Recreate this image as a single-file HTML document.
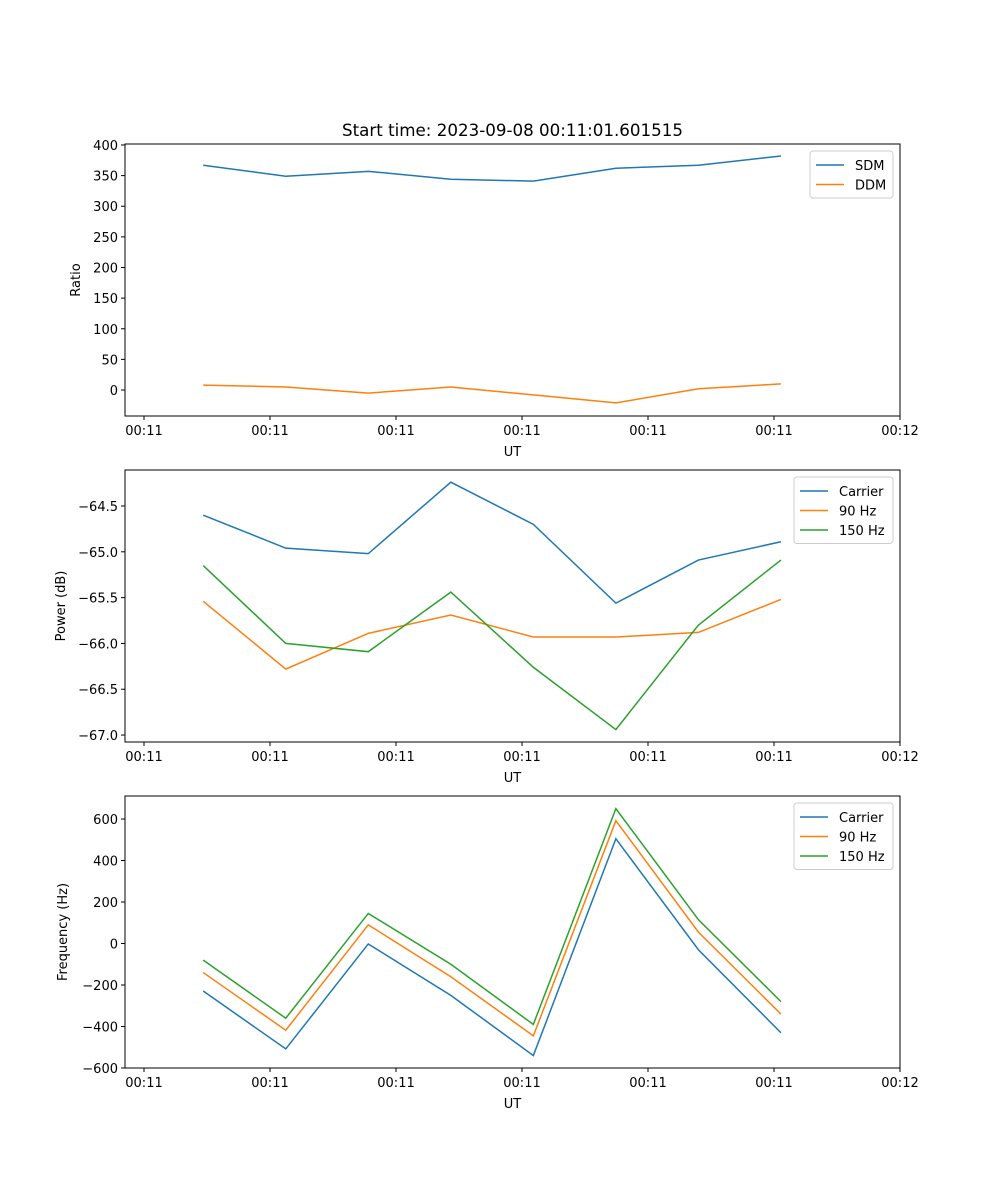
<!DOCTYPE html>
<html><head><meta charset="utf-8"><style>
body{margin:0;background:#fff}
svg{display:block;font-family:"DejaVu Sans","Liberation Sans",sans-serif}
</style></head><body>
<svg id="fig" width="1000" height="1200" viewBox="0 0 1000 1200">
<rect width="1000" height="1200" fill="#fff"/>
<text x="512.5" y="136" font-size="16.7" text-anchor="middle">Start time: 2023-09-08 00:11:01.601515</text>
</svg>
<script>
const times=[4.7,11.25,17.8,24.35,30.9,37.45,44.0,50.55];
const xTickVals=[0,10,20,30,40,50,60];
const xTickLabels=["00:11","00:11","00:11","00:11","00:11","00:11","00:12"];
const sdm=[367,349,357,344,341,362,367,382];
const ddm=[8,5,-5,5,-8,-21,2,10];
const ratioTicks=[400,350,300,250,200,150,100,50,0];
const pCarrier=[-64.60,-64.96,-65.02,-64.24,-64.70,-65.56,-65.09,-64.89];
const p90=[-65.54,-66.28,-65.89,-65.69,-65.93,-65.93,-65.88,-65.52];
const p150=[-65.15,-66.00,-66.09,-65.44,-66.26,-66.94,-65.80,-65.09];
const powerTicks=[-64.5,-65.0,-65.5,-66.0,-66.5,-67.0];
const fCarrier=[-229,-508,-2,-250,-540,505,-30,-430];
const f90=[-140,-418,90,-160,-445,592,55,-340];
const f150=[-80,-360,145,-100,-390,650,115,-280];
const freqTicks=[600,400,200,0,-200,-400,-600];

const NS="http://www.w3.org/2000/svg";
const svg=document.getElementById('fig');
const C=['#1f77b4','#ff7f0e','#2ca02c'];
const L=125,R=900;
const xs=t=>144+(t-0)*12.6;
function mk(tag,attrs,parent){const e=document.createElementNS(NS,tag);for(const k in attrs)e.setAttribute(k,attrs[k]);(parent||svg).appendChild(e);return e;}

function panel(id,top,bot,ymin,ymax,ticks,fmt,ylabel,yx,series,names,legW){
  const g=mk('g',{});
  
  
  const ys=v=>bot-(v-ymin)/(ymax-ymin)*(bot-top);
  ticks.forEach(v=>{const y=ys(v);
    mk('line',{x1:L-4,x2:L,y1:y,y2:y,stroke:'#000','stroke-width':1},g);
    const t=mk('text',{x:L-7,y:y+5,'font-size':13,'text-anchor':'end'},g);t.textContent=fmt(v);
    
    
  });
  xTickVals.forEach((v,i)=>{const x=xs(v);
    mk('line',{x1:x,x2:x,y1:bot,y2:bot+4,stroke:'#000','stroke-width':1},g);
    const t=mk('text',{x:x,y:bot+19,'font-size':13,'text-anchor':'middle'},g);t.textContent=xTickLabels[i];
    
    
  });
  const xl=mk('text',{x:512.5,y:bot+40,'font-size':13,'text-anchor':'middle'},g);xl.textContent='UT';
  
  
  const yl=mk('text',{x:0,y:0,'font-size':13,'text-anchor':'middle',transform:`translate(${yx},${(top+bot)/2}) rotate(-90)`},g);yl.textContent=ylabel;
  
  
  series.forEach((s,i)=>{
    const p=mk('polyline',{points:s.map((v,j)=>xs(times[j])+','+ys(v)).join(' '),fill:'none',stroke:C[i],'stroke-width':1.5},g);
    
    
  });
  mk('rect',{x:L,y:top,width:R-L,height:bot-top,fill:'none',stroke:'#000','stroke-width':1},g);
  const lg=mk('g',{},g);
  
  
  const lx=R-7-legW,ly=top+7;
  mk('rect',{x:lx,y:ly,width:legW,height:names.length*19.5+8,rx:3,fill:'#fff','fill-opacity':0.8,stroke:'#ccc'},lg);
  names.forEach((n,i)=>{const y=ly+14+i*19.5;
    mk('line',{x1:lx+6,x2:lx+34,y1:y,y2:y,stroke:C[i],'stroke-width':1.5},lg);
    const t=mk('text',{x:lx+45,y:y+5,'font-size':13},lg);t.textContent=n;
    
    
  });
}
panel('ratio',144,416,-42.4,401.6,ratioTicks,v=>String(v),'Ratio',80,[sdm,ddm],['SDM','DDM'],83);
panel('power',470,742,-67.076,-64.107,powerTicks,v=>'\u2212'+Math.abs(v).toFixed(1),'Power (dB)',65,[pCarrier,p90,p150],['Carrier','90 Hz','150 Hz'],99);
panel('frequency',796,1068,-600,711,freqTicks,v=>v<0?'\u2212'+Math.abs(v):String(v),'Frequency (Hz)',67,[fCarrier,f90,f150],['Carrier','90 Hz','150 Hz'],99);
</script>
</body></html>
